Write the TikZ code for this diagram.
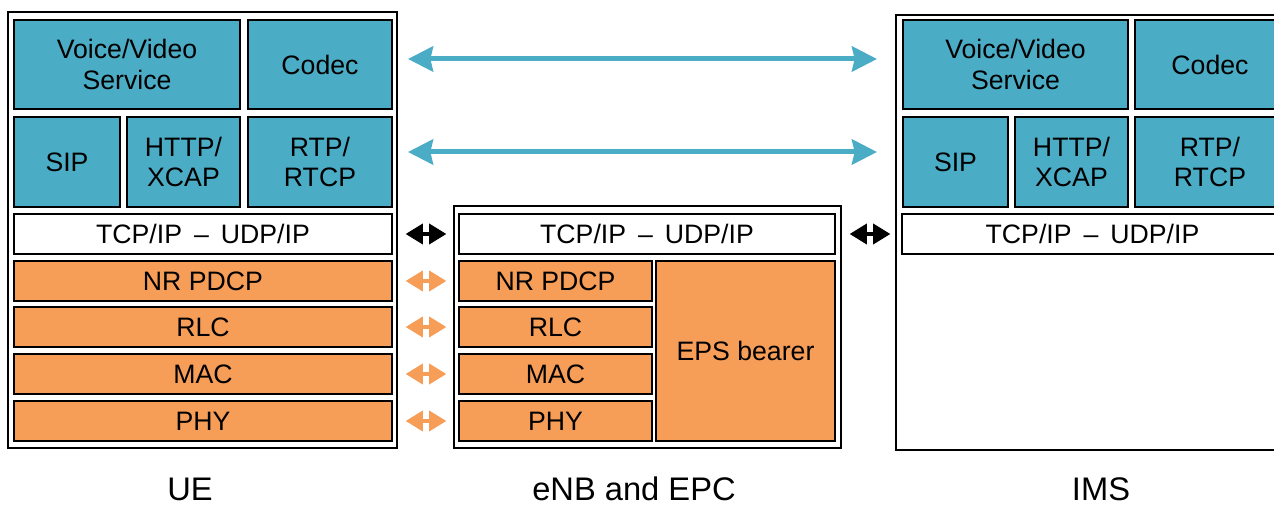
\documentclass[tikz,border=0pt]{standalone}
\usepackage{fontspec}
\setmainfont{Liberation Sans}
\usetikzlibrary{arrows.meta}
\definecolor{svcblue}{RGB}{75,172,198}
\definecolor{lnkorange}{RGB}{246,157,88}

% layer box from its corner coordinates (in px): style, name, x1, y1, x2, y2, text
\newcommand\layerbox[7]{%
  \node[#1, minimum width={(#5-#3)*0.75pt}, minimum height={(#6-#4)*0.75pt}]
    (#2) at ({(#3+#5)/2},{(#4+#6)/2}) {#7};}

\begin{document}
\begin{tikzpicture}[x=0.75pt,y=-0.75pt,
  frame/.style={draw=black, line width=1.5pt, inner sep=0pt, fill=white},
  layer/.style={draw=black, line width=1.5pt, inner sep=0pt, align=center,
    font=\fontsize{20}{23}\selectfont},
  svc/.style={layer, fill=svcblue},
  lnk/.style={layer, fill=lnkorange},
  net/.style={layer, fill=white},
  caption/.style={anchor=base, inner sep=0pt, font=\fontsize{24.5}{28}\selectfont},
  svcarrow/.style={draw=svcblue, line width=3.75pt,
    {Stealth[length=18.75pt,width=18.75pt,inset=2pt]}-{Stealth[length=18.75pt,width=18.75pt,inset=2pt]}},
  peerarrow/.style={line width=3pt, draw=#1,
    {Triangle[length=13pt,width=15pt,sep=1.2pt]}-{Triangle[length=13pt,width=15pt,sep=1.2pt]}},
]
\useasboundingbox (0,0) rectangle (1274,505);
\clip (0,0) rectangle (1274,505);

% ---------- UE ----------
\layerbox{frame}{ue}{8}{12}{397}{448}{}
\layerbox{svc}{ueVoice}{14}{20}{240}{109}{Voice/Video\\Service}
\layerbox{svc}{ueCodec}{248}{20}{392}{109}{Codec}
\layerbox{svc}{ueSip}{14}{117}{120}{207}{SIP}
\layerbox{svc}{ueHttp}{127}{117}{240}{207}{HTTP/\\XCAP}
\layerbox{svc}{ueRtp}{248}{117}{392}{207}{RTP/\\RTCP}
\layerbox{net}{ueTcp}{14}{214}{392}{254}{TCP/IP\hspace{0.45em}–\hspace{0.45em}UDP/IP}
\layerbox{lnk}{uePdcp}{14}{261}{392}{301}{NR PDCP}
\layerbox{lnk}{ueRlc}{14}{307}{392}{347}{RLC}
\layerbox{lnk}{ueMac}{14}{354}{392}{394}{MAC}
\layerbox{lnk}{uePhy}{14}{401}{392}{441}{PHY}

% ---------- eNB and EPC ----------
\layerbox{frame}{mid}{454}{206}{841}{448}{}
\layerbox{net}{midTcp}{459}{214}{835}{254}{TCP/IP\hspace{0.45em}–\hspace{0.45em}UDP/IP}
\layerbox{lnk}{midPdcp}{459}{261}{652}{301}{NR PDCP}
\layerbox{lnk}{midRlc}{459}{307}{652}{347}{RLC}
\layerbox{lnk}{midMac}{459}{354}{652}{394}{MAC}
\layerbox{lnk}{midPhy}{459}{401}{652}{441}{PHY}
\layerbox{lnk}{midEps}{656}{261}{835}{441}{EPS bearer}

% ---------- IMS ----------
\layerbox{frame}{ims}{896}{15}{1290}{450}{}
\layerbox{svc}{imsVoice}{903}{20}{1128}{109}{Voice/Video\\Service}
\layerbox{svc}{imsCodec}{1135}{20}{1285}{109}{Codec}
\layerbox{svc}{imsSip}{903}{117}{1008}{207}{SIP}
\layerbox{svc}{imsHttp}{1015}{117}{1128}{207}{HTTP/\\XCAP}
\layerbox{svc}{imsRtp}{1135}{117}{1285}{207}{RTP/\\RTCP}
\layerbox{net}{imsTcp}{902}{214}{1283}{254}{TCP/IP\hspace{0.45em}–\hspace{0.45em}UDP/IP}

% ---------- captions ----------
\node[caption] (ueLabel) at (190,500) {UE};
\node[caption] (midLabel) at (634,500) {eNB and EPC};
\node[caption] (imsLabel) at (1101,500) {IMS};

% ---------- peer relations ----------
\coordinate (appRow) at (0,59);
\coordinate (sigRow) at (0,152);
\draw[svcarrow, shorten <=7.5pt, shorten >=13.5pt] (ue.east |- appRow) -- (ims.west |- appRow);
\draw[svcarrow, shorten <=7.5pt, shorten >=13.5pt] (ue.east |- sigRow) -- (ims.west |- sigRow);

\draw[peerarrow=black, shorten <=8.25pt, shorten >=7.5pt] (ueTcp.east) -- (midTcp.west);
\draw[peerarrow=black, shorten <=9pt, shorten >=6.75pt] (midTcp.east) -- (imsTcp.west);

\draw[peerarrow=lnkorange, shorten <=8.25pt, shorten >=7.5pt] (uePdcp.east) -- (midPdcp.west);
\draw[peerarrow=lnkorange, shorten <=8.25pt, shorten >=7.5pt] (ueRlc.east) -- (midRlc.west);
\draw[peerarrow=lnkorange, shorten <=8.25pt, shorten >=7.5pt] (ueMac.east) -- (midMac.west);
\draw[peerarrow=lnkorange, shorten <=8.25pt, shorten >=7.5pt] (uePhy.east) -- (midPhy.west);
\end{tikzpicture}
\end{document}
